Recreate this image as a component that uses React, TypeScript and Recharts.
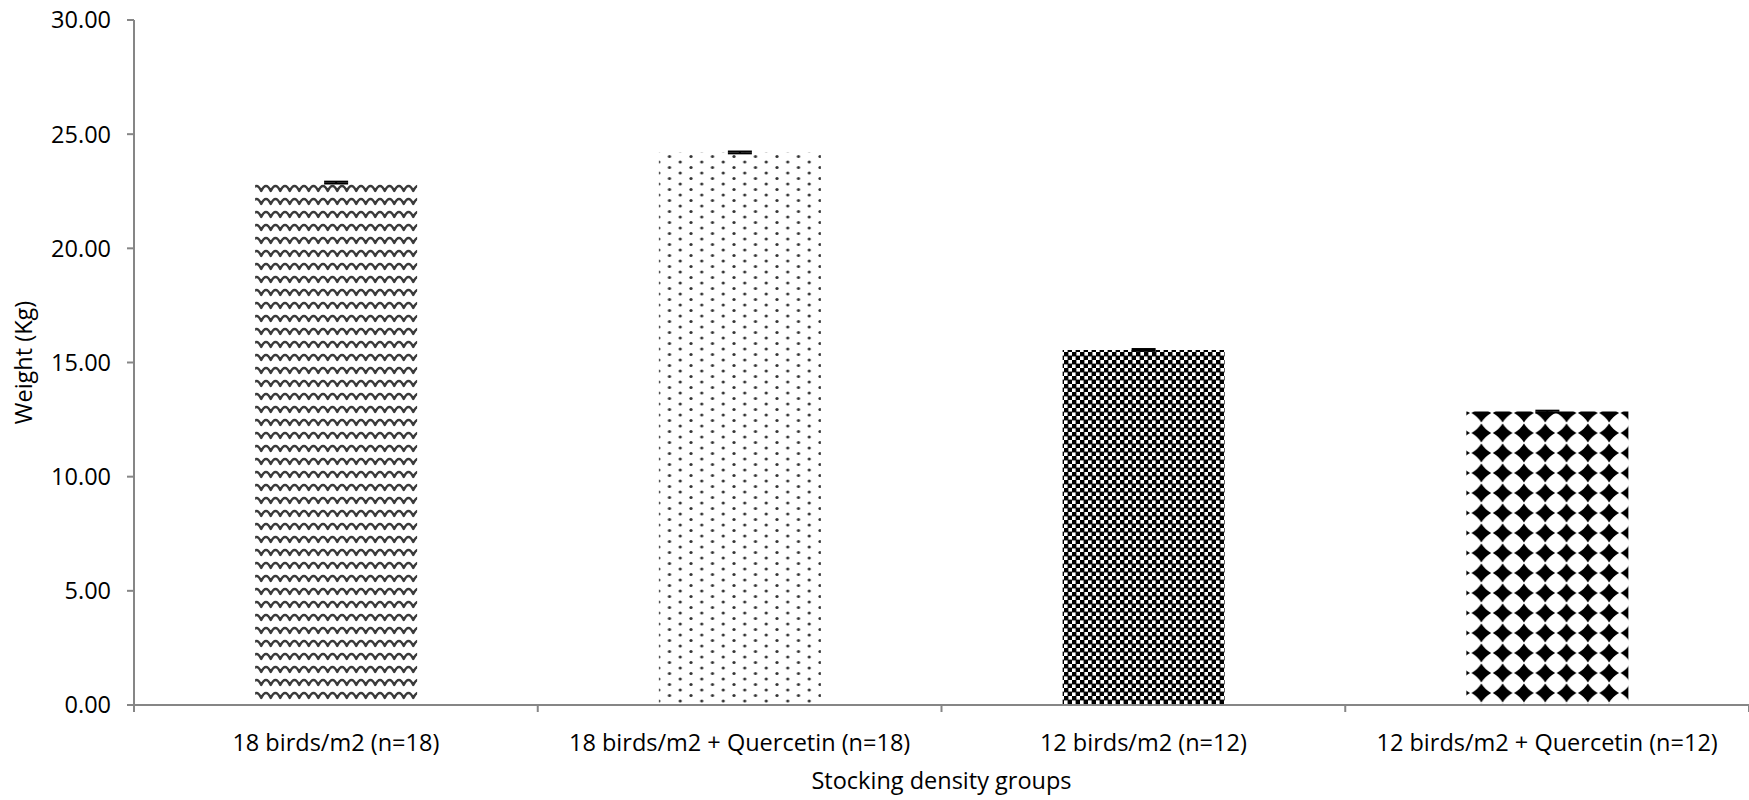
import React from 'react';
import { BarChart, Bar, XAxis, YAxis, ErrorBar, Cell } from 'recharts';

const categories = [
  '18 birds/m2 (n=18)',
  '18 birds/m2 + Quercetin (n=18)',
  '12 birds/m2 (n=12)',
  '12 birds/m2 + Quercetin (n=12)',
];
const weights = [22.88, 24.2, 15.55, 12.85];
const errors = [0.04, 0.04, 0.04, 0.04];
const patternIds = ['wave', 'dots', 'checker', 'diamond'];
const yTicks = [0, 5, 10, 15, 20, 25, 30];

const data = categories.map((name, i) => ({ name, weight: weights[i], err: errors[i] }));

const W = 1749;
const H = 800;
const Y_AXIS_W = 134;
const PLOT_W = W - Y_AXIS_W;
const AXIS_GREY = '#868686';
const FONT = '"Open Sans", sans-serif';
const FS = 23.5;

function CategoryTick(props: any) {
  const { x, y, payload, index } = props;
  const step = PLOT_W / categories.length;
  const left = x - step / 2;
  return (
    <g>
      <line x1={left} x2={left} y1={y} y2={y + 7} stroke={AXIS_GREY} strokeWidth={2} />
      {index === categories.length - 1 && (
        <line x1={x + step / 2} x2={x + step / 2} y1={y} y2={y + 7} stroke={AXIS_GREY} strokeWidth={2} />
      )}
      <text x={x} y={y + 46} textAnchor="middle" fontSize={FS} fontFamily={FONT} fill="#000">
        {payload.value}
      </text>
    </g>
  );
}

export default function App() {
  document.body.style.margin = '0';
  return (
    <div style={{ width: W, height: H, background: '#fff' }}>
      <BarChart
        width={W}
        height={H}
        data={data}
        margin={{ top: 20, right: 0, left: 0, bottom: 0 }}
        barCategoryGap="30%"
      >
        <defs>
          <pattern id="wave" patternUnits="userSpaceOnUse" width={19} height={13}>
            <rect width={19} height={13} fill="#fff" />
            <path
              d="M-4.75,9 Q-2.4,4 0,4 Q2.4,4 4.75,9 Q7.1,4 9.5,4 Q11.9,4 14.25,9 Q16.6,4 19,4 Q21.4,4 23.75,9"
              fill="none"
              stroke="#3a3a3a"
              strokeWidth={2.4}
              strokeLinejoin="round"
            />
          </pattern>
          <pattern id="dots" patternUnits="userSpaceOnUse" width={21.5} height={11}>
            <rect width={21.5} height={11} fill="#fff" />
            <circle cx={3} cy={2.5} r={1.6} fill="#333" />
            <circle cx={13.75} cy={8} r={1.6} fill="#333" />
          </pattern>
          <pattern id="checker" patternUnits="userSpaceOnUse" width={8} height={8}>
            <rect width={8} height={8} fill="#fff" />
            <rect x={-0.4} y={-0.4} width={4.8} height={4.8} fill="#000" />
            <rect x={3.6} y={3.6} width={4.8} height={4.8} fill="#000" />
          </pattern>
          <pattern id="diamond" patternUnits="userSpaceOnUse" width={21.3} height={20} x={1} y={3}>
            <rect width={21.3} height={20} fill="#fff" />
            <path
              d="M10.65,0.5 Q14,6.2 20.5,10 Q14,13.8 10.65,19.5 Q7.3,13.8 0.8,10 Q7.3,6.2 10.65,0.5 Z"
              fill="#000"
            />
          </pattern>
        </defs>
        <XAxis
          dataKey="name"
          height={H - 20 - 685}
          stroke={AXIS_GREY}
          strokeWidth={2}
          tickLine={false}
          tickSize={0}
          tickMargin={0}
          tick={<CategoryTick />}
          interval={0}
          label={{
            value: 'Stocking density groups',
            position: 'insideBottom',
            offset: 11,
            fontSize: FS,
            fontFamily: FONT,
            fill: '#000',
          }}
        />
        <YAxis
          width={Y_AXIS_W}
          domain={[0, 30]}
          ticks={yTicks}
          tickFormatter={(v: number) => v.toFixed(2)}
          stroke={AXIS_GREY}
          strokeWidth={2}
          tickSize={7}
          tickMargin={16}
          tick={{ fontSize: FS, fontFamily: FONT, fill: '#000' }}
          label={{
            value: 'Weight (Kg)',
            angle: -90,
            position: 'insideLeft',
            offset: 24,
            fontSize: FS,
            fontFamily: FONT,
            fill: '#000',
            style: { textAnchor: 'middle' },
          }}
        />
        <Bar dataKey="weight" isAnimationActive={false}>
          {data.map((d, i) => (
            <Cell key={d.name} fill={`url(#${patternIds[i]})`} />
          ))}
          <ErrorBar dataKey="err" width={12} stroke="#000" strokeWidth={2} direction="y" />
        </Bar>
      </BarChart>
    </div>
  );
}
